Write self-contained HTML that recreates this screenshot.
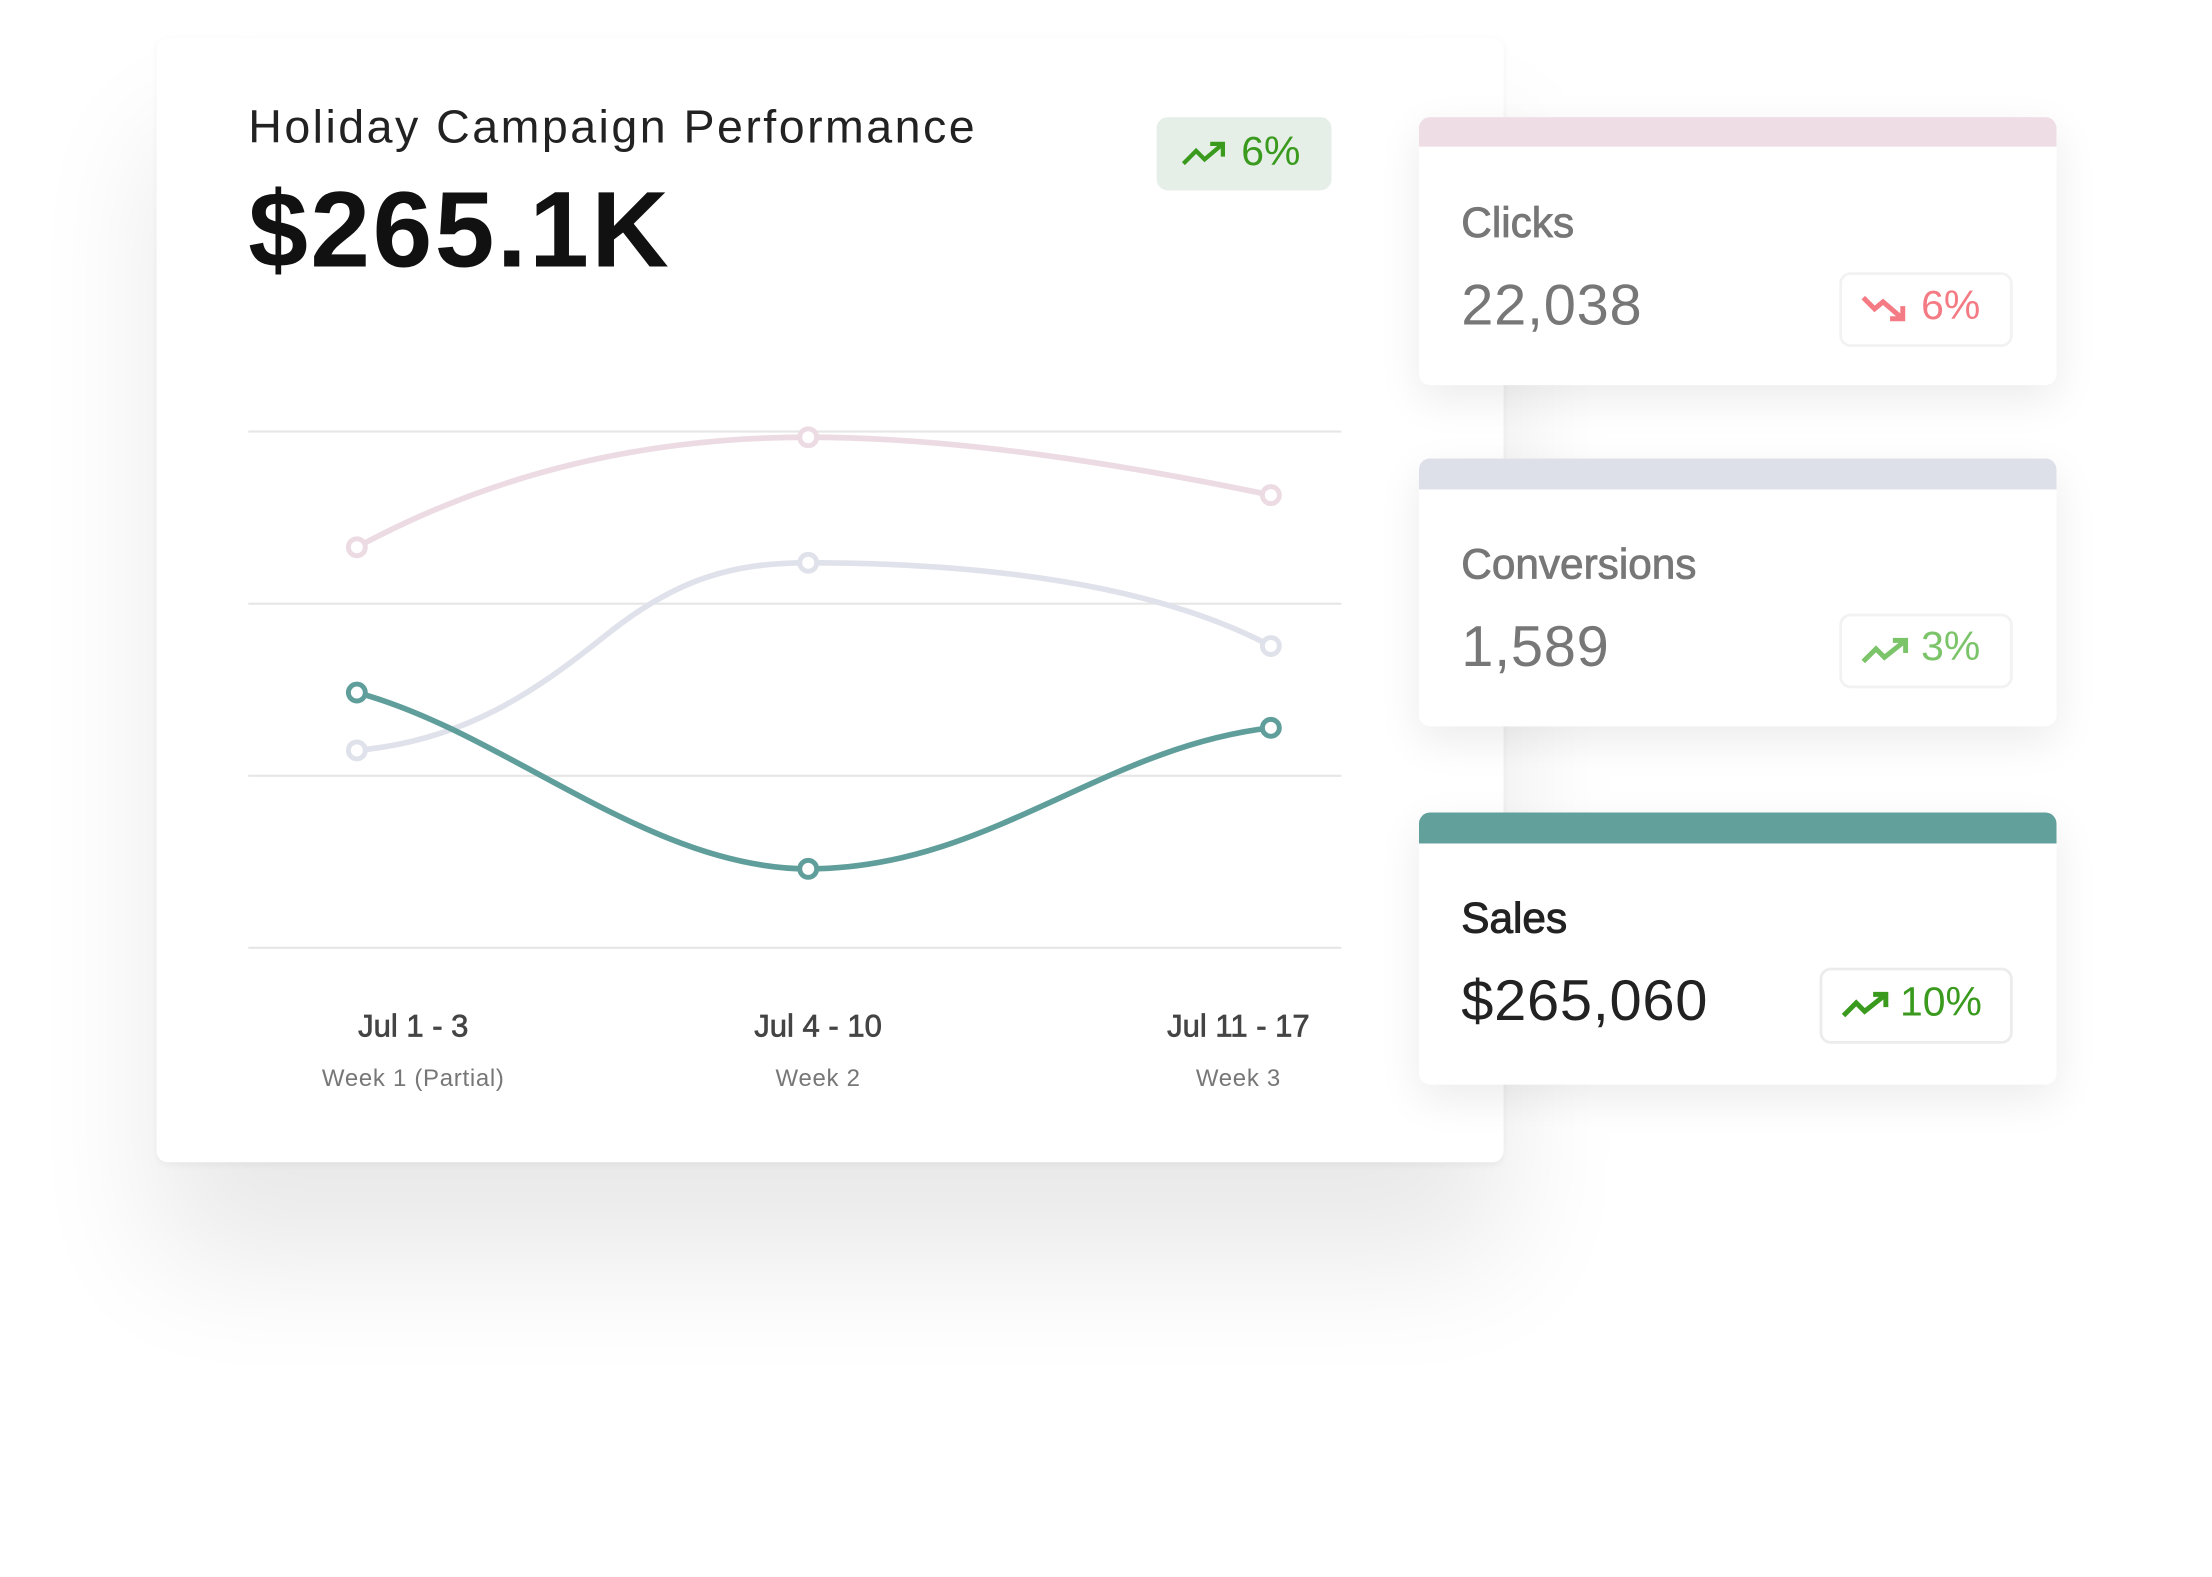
<!DOCTYPE html>
<html><head><meta charset="utf-8"><style>
html,body{margin:0;padding:0;background:#fff;}
body{width:2212px;height:1577px;overflow:hidden;position:relative;font-family:"Liberation Sans",sans-serif;}
#s{position:absolute;left:0;top:0;width:1560px;height:1112px;transform:scale(1.4105);transform-origin:0 0;}
.card{position:absolute;background:#fff;border-radius:8px;}
.t{position:absolute;white-space:nowrap;}
.badge{position:absolute;border-radius:8px;box-sizing:border-box;}
</style></head><body><div id="s">
<div class="card" style="left:111px;top:27px;width:955px;height:797px;box-shadow:0 70px 110px rgba(0,0,0,0.09),0 2px 6px rgba(0,0,0,0.05);"></div>
<div class="t" style="left:176px;top:71px;font-size:33px;font-weight:500;color:#222;letter-spacing:1.75px;">Holiday Campaign Performance</div>
<div class="t" style="left:176px;top:120px;font-size:76px;font-weight:bold;color:#111;letter-spacing:1.8px;">$265.1K</div>
<div class="badge" style="left:820px;top:83px;width:124px;height:52px;background:#e5efe8;"></div>
<svg style="position:absolute;left:837px;top:98px" width="36" height="24"><polyline points="2,18 11,9 17,15 30,4" fill="none" stroke="#3a9a1e" stroke-width="3"/><polyline points="21,4 30,4 30,13" fill="none" stroke="#3a9a1e" stroke-width="3"/></svg>
<div class="t" style="left:880px;top:92px;font-size:29px;color:#3a9a1e;">6%</div>
<svg style="position:absolute;left:0;top:0" width="1100" height="800">
<g stroke="#e6e6e6" stroke-width="1.5"><line x1="176" y1="306" x2="951" y2="306"/><line x1="176" y1="428" x2="951" y2="428"/><line x1="176" y1="550" x2="951" y2="550"/><line x1="176" y1="672" x2="951" y2="672"/></g>
<path d="M253,388 C360,330 470,310 573,310 C680,310 800,330 901,351" fill="none" stroke="#ecdbe2" stroke-width="4"/>
<path d="M253,532 C330,525 380,490 430,450 C480,410 520,399 573,399 C700,399 820,415 901,458" fill="none" stroke="#dfe2ea" stroke-width="4"/>
<path d="M253,491 C360,520 460,616 573,616 C700,616 780,530 901,516" fill="none" stroke="#5f9e9a" stroke-width="4"/>
<g fill="#fff" stroke-width="3.5">
<circle cx="253" cy="388" r="6" stroke="#ecdbe2"/><circle cx="573" cy="310" r="6" stroke="#ecdbe2"/><circle cx="901" cy="351" r="6" stroke="#ecdbe2"/>
<circle cx="253" cy="532" r="6" stroke="#dfe2ea"/><circle cx="573" cy="399" r="6" stroke="#dfe2ea"/><circle cx="901" cy="458" r="6" stroke="#dfe2ea"/>
<circle cx="253" cy="491" r="6" stroke="#5f9e9a"/><circle cx="573" cy="616" r="6" stroke="#5f9e9a"/><circle cx="901" cy="516" r="6" stroke="#5f9e9a"/>
</g>
<g font-family="Liberation Sans, sans-serif" text-anchor="middle">
<text x="293" y="735" font-size="22" fill="#444" stroke="#444" stroke-width="0.5">Jul 1 - 3</text>
<text x="580" y="735" font-size="22" fill="#444" stroke="#444" stroke-width="0.5">Jul 4 - 10</text>
<text x="878" y="735" font-size="22" fill="#444" stroke="#444" stroke-width="0.5">Jul 11 - 17</text>
<text x="293" y="770" font-size="17" fill="#777" letter-spacing="0.5">Week 1 (Partial)</text>
<text x="580" y="770" font-size="17" fill="#777" letter-spacing="0.5">Week 2</text>
<text x="878" y="770" font-size="17" fill="#777" letter-spacing="0.5">Week 3</text>
</g></svg>

<div class="card" style="left:1006px;top:83px;width:452px;height:190px;overflow:hidden;box-shadow:0 10px 30px rgba(0,0,0,0.08);"><div style="height:21px;background:#eedde4"></div></div>
<div class="t" style="left:1036px;top:142px;font-size:30px;color:#777;-webkit-text-stroke:0.6px #777;">Clicks</div>
<div class="t" style="left:1036px;top:193px;font-size:41px;color:#777;letter-spacing:0.5px;">22,038</div>
<div class="badge" style="left:1304px;top:193px;width:123px;height:53px;border:2px solid #f2f2f2;"></div>
<svg style="position:absolute;left:1319px;top:207px" width="38" height="26"><polyline points="2,4 10,12 16,7 30,19" fill="none" stroke="#f47a83" stroke-width="3.5"/><polyline points="30,10 30,19 21,19" fill="none" stroke="#f47a83" stroke-width="3.5"/></svg>
<div class="t" style="left:1362px;top:201px;font-size:29px;color:#f47a83;">6%</div>

<div class="card" style="left:1006px;top:325px;width:452px;height:190px;overflow:hidden;box-shadow:0 10px 30px rgba(0,0,0,0.08);"><div style="height:22px;background:#dde0e8"></div></div>
<div class="t" style="left:1036px;top:384px;font-size:30px;color:#777;-webkit-text-stroke:0.6px #777;">Conversions</div>
<div class="t" style="left:1036px;top:435px;font-size:41px;color:#777;letter-spacing:0.5px;">1,589</div>
<div class="badge" style="left:1304px;top:435px;width:123px;height:53px;border:2px solid #f2f2f2;"></div>
<svg style="position:absolute;left:1319px;top:449px" width="38" height="26"><polyline points="2,20 11,11 17,17 32,5" fill="none" stroke="#7cc46a" stroke-width="3.5"/><polyline points="23,5 32,5 32,14" fill="none" stroke="#7cc46a" stroke-width="3.5"/></svg>
<div class="t" style="left:1362px;top:443px;font-size:29px;color:#7cc46a;">3%</div>

<div class="card" style="left:1006px;top:576px;width:452px;height:193px;overflow:hidden;box-shadow:0 10px 30px rgba(0,0,0,0.08);"><div style="height:22px;background:#62a09c"></div></div>
<div class="t" style="left:1036px;top:635px;font-size:30px;color:#222;-webkit-text-stroke:0.7px #222;">Sales</div>
<div class="t" style="left:1036px;top:686px;font-size:41px;color:#222;letter-spacing:0.5px;">$265,060</div>
<div class="badge" style="left:1290px;top:686px;width:137px;height:54px;border:2px solid #ececec;"></div>
<svg style="position:absolute;left:1305px;top:700px" width="38" height="26"><polyline points="2,20 11,11 17,17 32,5" fill="none" stroke="#3a9a1e" stroke-width="3.5"/><polyline points="23,5 32,5 32,14" fill="none" stroke="#3a9a1e" stroke-width="3.5"/></svg>
<div class="t" style="left:1347px;top:695px;font-size:29px;color:#3a9a1e;">10%</div>
</div></body></html>
